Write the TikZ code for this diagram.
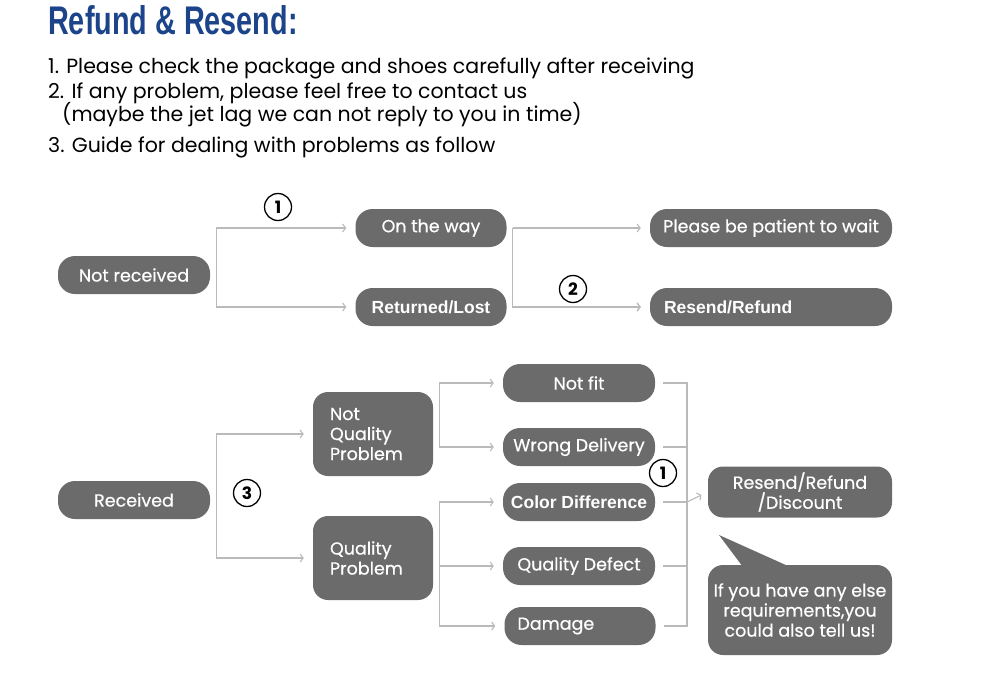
\documentclass[tikz,border=0pt]{standalone}
\usepackage{fontspec}
\setmainfont{Poppins}
\newfontfamily\boldface{Liberation Sans}
\newfontfamily\boxface{Poppins}[FakeBold=0.5]
\usetikzlibrary{arrows.meta,positioning}
\definecolor{titleblue}{RGB}{28,68,138}
\newcommand{\clrbox}{black!58}
\newcommand{\clrline}{black!27}
\newcommand{\clrtitle}{titleblue}

\begin{document}
\begin{tikzpicture}[x=1pt,y=-1pt,
    pill/.style={fill=\clrbox, text=white, rounded corners=17pt, minimum height=38pt,
                 inner sep=0pt, font=\boxface\fontsize{17.5}{20}\selectfont},
    tabbox/.style={fill=\clrbox, text=white, rounded corners=15pt, inner ysep=0pt,
                 font=\boxface\fontsize{17.5}{20}\selectfont},
    bolder/.style={font=\boldface\bfseries\fontsize{17.5}{20}\selectfont},
    note/.style={anchor=base west, inner sep=0pt, font=\fontsize{20.5}{20}\selectfont},
    link/.style={draw=\clrline, line width=1.1pt},
    arrowlink/.style={link, -{Straight Barb[length=3pt,width=8pt]}, shorten >=9pt},
    num/.style={circle, draw=black, line width=1.3pt, minimum size=27pt, inner sep=0pt,
                font=\bfseries\fontsize{17}{17}\selectfont}]

    \useasboundingbox (0,0) rectangle (1000,675);

    % heading and notes
    \node[anchor=base west, inner sep=0pt, text=\clrtitle] (title) at (48,34)
        {\scalebox{0.72}[1]{\boldface\bfseries\fontsize{40}{40}\selectfont Refund \& Resend:}};
    \node[note] (n1) at (48,73) {1. Please check the package and shoes carefully after receiving};
    \node[note] (n2) at (48,98) {2. If any problem, please feel free to contact us};
    \node[note] (n2b) at (62,121) {(maybe the jet lag we can not reply to you in time)};
    \node[note] (n3) at (48,152) {3. Guide for dealing with problems as follow};

    % not received
    \node[pill, minimum width=152pt] (nrec) at (134,275) {Not received};
    \node[pill, minimum width=151pt] (way) at (431,228) {On the way};
    \node[pill, bolder, minimum width=151pt] (lost) at (431,307) {Returned/Lost};
    \node[pill, minimum width=242pt] (wait) at (771,228) {Please be patient to wait};
    \node[pill, bolder, text width=214pt, inner xsep=14pt, align=left] (resend) at (771,307) {Resend/Refund};

    % received
    \node[pill, minimum width=152pt] (rec) at (134,500) {Received};
    \node[tabbox, text width=86pt, inner xsep=17pt, minimum height=84pt, align=left] (nqp) at (373,434)
        {Not\\Quality\\Problem};
    \node[tabbox, text width=86pt, inner xsep=17pt, minimum height=84pt, align=left] (qp) at (373,558)
        {Quality\\Problem};

    \node[pill, minimum width=152pt] (nfit) at (579,383) {Not fit};
    \node[pill, minimum width=152pt] (wrong) at (579,447) {Wrong Delivery};
    \node[pill, bolder, minimum width=152pt] (color) at (579,502) {Color Difference};
    \node[pill, minimum width=152pt] (defect) at (579,566) {Quality Defect};
    \node[pill, text width=125pt, inner xsep=13pt, align=left] (damage) at (580,626) {Damage};

    \node[tabbox, minimum width=184pt, minimum height=51pt, align=center] (rrd) at (800,492)
        {Resend/Refund\\/Discount};
    \node[tabbox, minimum width=184pt, minimum height=90pt, align=center] (bubble) at (800,610)
        {If you have any else\\requirements,you\\could also tell us!};
    \coordinate (tip) at (719,535);
    \fill[\clrbox] (tip) -- ([xshift=35pt,yshift=-2pt]bubble.north west)
        -- ([xshift=82pt,yshift=-2pt]bubble.north west) -- cycle;

    % connectors
    \foreach \v/\w in {nrec/way, nrec/lost, way/wait, way/resend, lost/resend,
                       rec/nqp, rec/qp, nqp/nfit, nqp/wrong, qp/color, qp/defect, qp/damage}
    {
        \draw[arrowlink] ([xshift=6pt]\v.east) |- (\w.west);
    }

    \coordinate (hub) at (687,502);
    \foreach \v in {nfit, wrong, color, defect, damage}
    {
        \draw[link] ([xshift=8pt]\v.east) -| (hub);
    }
    \draw[arrowlink, shorten >=7pt] (hub) -- (rrd.west);

    % step numbers
    \node[num] (s1) at (278,207) {1};
    \node[num] (s2) at (573,289) {2};
    \node[num] (s3) at (247,493) {3};
    \node[num] (s4) at (663,473) {1};

\end{tikzpicture}
\end{document}
